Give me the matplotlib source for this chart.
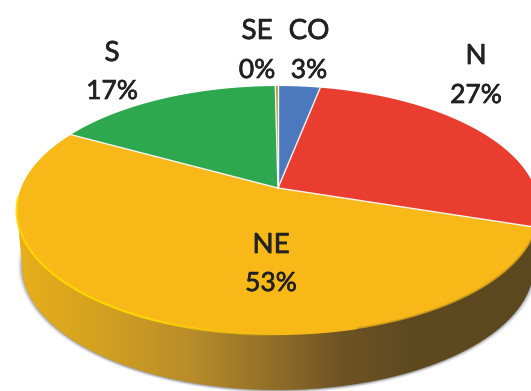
import numpy as np
import matplotlib
matplotlib.use("Agg")
import matplotlib.pyplot as plt
import matplotlib.patheffects as pe
from matplotlib.collections import LineCollection
from matplotlib.colors import LinearSegmentedColormap
from matplotlib.patches import PathPatch
from matplotlib.path import Path

# data, clockwise from the top
regions = ["CO", "N", "NE", "S", "SE"]
shares = [3.1, 26.9, 53.0, 16.8, 0.2]
colors = ["#4c78be", "#e93d30", "#f8b818", "#2ea84f", "#b89a30"]

plt.rcParams["font.family"] = ["Lato", "DejaVu Sans"]

# perspective of the disc, in image pixels
APEX_X, APEX_Y = 278, 188
SCALE_X, SCALE_Y = 257, 120.4
TILT = 0.181


def project(angle_deg):
    # angle clockwise from the top of the disc
    a = np.radians(angle_deg)
    u, v = np.sin(a), np.cos(a)
    w = 1 + TILT * v
    return APEX_X + SCALE_X * u / w, APEX_Y - SCALE_Y * v / w


def half_ellipse(cx, cy, rx, ry):
    t = np.linspace(np.pi, 0, 200)
    return cx + rx * np.cos(t), cy + ry * np.sin(t)


fig = plt.figure(figsize=(5.31, 3.91), dpi=100)
ax = fig.add_axes([0, 0, 1, 1])

# soft shadow under the disc
for grow, alpha in zip([5, 4, 3, 2, 1], [0.06, 0.08, 0.11, 0.15, 0.2]):
    t = np.linspace(0, 2 * np.pi, 300)
    ax.fill(278 + (255 + grow) * np.cos(t), 266 + (124 + grow * 0.6) * np.sin(t),
            color="#303040", alpha=alpha, lw=0, zorder=1)

# side wall with a left to right gradient
bx, by = half_ellipse(278, 266, 256, 124)
tx, ty = half_ellipse(278, 211, 261, 124)
wall_x = np.concatenate([bx, [tx[-1], tx[0]]])
wall_y = np.concatenate([by, [ty[-1], ty[0]]])
wall = PathPatch(Path(np.column_stack([wall_x, wall_y])), fc="none", ec="none",
                 transform=ax.transData)
ax.add_patch(wall)
side_cmap = LinearSegmentedColormap.from_list(
    "side", [(0, "#e8ae1c"), (0.14, "#d6a31f"), (0.33, "#b98d2a"),
             (0.5, "#8f6c28"), (0.62, "#6e5424"), (0.75, "#5f4a20"),
             (1, "#5c481f")])
grad = ax.imshow(np.linspace(0, 1, 256).reshape(1, -1), cmap=side_cmap,
                 extent=[17, 539, 391, 200], aspect="auto", zorder=2)
grad.set_clip_path(wall)

# top face
start = 0
for name, share, color in zip(regions, shares, colors):
    end = start + share * 3.6
    xs, ys = project(np.linspace(start, end, max(int(share * 4), 2)))
    ax.fill(np.r_[APEX_X, xs], np.r_[APEX_Y, ys], color=color, lw=0, zorder=3)
    start = end

# white lines between slices
start = 0
for share in shares:
    ex, ey = project(start)
    ax.plot([APEX_X, ex], [APEX_Y, ey], color="#f4f4f0", lw=1.0, zorder=4)
    start += share * 3.6

# bright rim on the front of the yellow slice, fading out to the right
rim_x, rim_y = project(np.linspace(266, 178, 120))
segs = [[(rim_x[i], rim_y[i]), (rim_x[i + 1], rim_y[i + 1])] for i in range(119)]
rim_colors = [(1, 0.85, 0, 0.95 * min(1, (119 - i) / 35)) for i in range(119)]
ax.add_collection(LineCollection(segs, colors=rim_colors, lw=1.6, zorder=5))

# dark soft edge on the right of the front
edge_x, edge_y = project(np.linspace(105, 165, 60))
for lw, alpha in zip([3.0, 1.5], [0.15, 0.25]):
    ax.plot(edge_x, edge_y, color="#5c481f", lw=lw, alpha=alpha, zorder=5)

# label baselines, in image pixels
label_x = [309, 476, 271, 112, 257]
name_base = [39, 64, 253, 61, 39]
value_base = [78, 103, 291, 99, 78]
heavy = [pe.withStroke(linewidth=0.5, foreground="#222222")]
for name, share, x, y, vy in zip(regions, shares, label_x, name_base, value_base):
    ax.text(x, y, name, ha="center", va="baseline", fontsize=20, color="#222222",
            zorder=6, path_effects=heavy)
    ax.text(x, vy, "%d%%" % round(share), ha="center", va="baseline", fontsize=19,
            color="#222222", zorder=6, path_effects=heavy)

ax.set_xlim(0, 531)
ax.set_ylim(391, 0)
ax.axis("off")
fig.savefig("out.png", dpi=100)
